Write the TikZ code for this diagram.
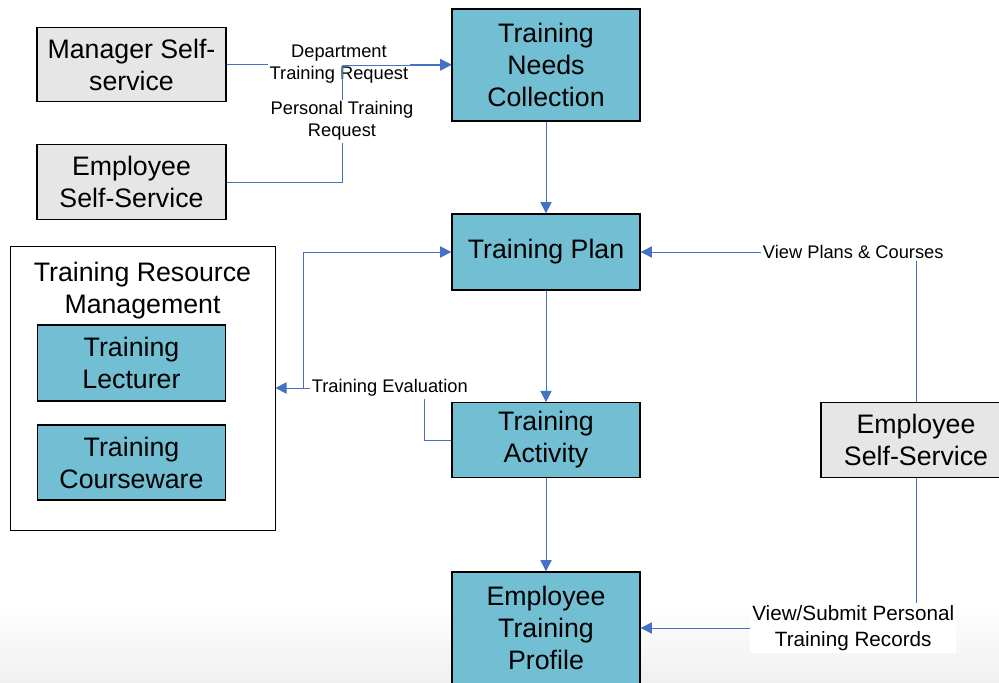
\documentclass[tikz,border=0pt]{standalone}
\usepackage{fontspec}
\setmainfont{Liberation Sans}
\usepackage{xcolor}
\usepackage{tikz}
\usetikzlibrary{
  arrows.meta,
  positioning,
  calc
}
\definecolor{procteal}{RGB}{114, 190, 210}
\definecolor{selfgray}{RGB}{230, 230, 230}
\definecolor{linkblue}{RGB}{68, 114, 196}
\tikzset{
  procbox/.style = {
    rectangle, draw=black, line width=0.9pt,
    fill=procteal, minimum width=4.7cm, minimum height=#1,
    align=center, inner sep=2pt,
    font=\fontsize{19}{22.8}\selectfont
  },
  procbox/.default = 1.88cm,
  selfbox/.style = {
    rectangle, draw=black, line width=0.9pt,
    fill=selfgray, minimum width=4.72cm, minimum height=1.86cm,
    align=center, inner sep=2pt,
    font=\fontsize{19}{22.8}\selectfont
  },
  groupbox/.style = {
    rectangle, draw=black, line width=0.6pt,
    minimum width=6.62cm, minimum height=7.1cm
  },
  grouptitle/.style = {
    align=center, font=\fontsize{19}{22.8}\selectfont
  },
  conn/.style = {-{Triangle[length=8pt, width=8pt]}, draw=linkblue,
    line width=0.7pt},
  lbl/.style = {font=\fontsize{13}{15.6}\selectfont, fill=white,
    align=center, inner sep=1.5pt},
}

\begin{document}
\begin{tikzpicture}[x=0.025cm, y=-0.025cm]

  \useasboundingbox (0,0) rectangle (999,683);
  \fill[top color=white, bottom color=black!6] (0,605) rectangle (999,683);

  %% left side
  \node[selfbox] (mss) at (131.5,64.5) {Manager Self-\\service};
  \node[selfbox] (ess1) at (131.5,182) {Employee\\Self-Service};
  \node[groupbox] (trm) at (142.5,388) {};
  \node[grouptitle] (trmtitle) at (142.5,291) {Training Resource\\Management};
  \node[procbox=1.9cm] (tlect) at (131.5,363) {Training\\Lecturer};
  \node[procbox] (tcw) at (131.5,462.5) {Training\\Courseware};

  %% main flow
  \node[procbox=2.8cm] (tnc) at (546,65) {Training\\Needs\\Collection};
  \node[procbox=1.9cm] (tplan) at (546,252) {Training Plan};
  \node[procbox=1.86cm] (tact) at (546,440) {Training\\Activity};
  \node[procbox=2.8cm] (etp) at (546,628) {Employee\\Training\\Profile};

  %% right side
  \node[selfbox, minimum width=4.75cm] (ess2) at (916,440)
    {Employee\\Self-Service};

  \coordinate (pjoin) at (342,65);
  \coordinate (evturn) at (424,388);
  \coordinate (evjoin) at (303,388);

  \draw[conn] (mss.east) -- node[lbl]{Department\\Training Request}
    (mss.east -| tnc.west);
  \draw[conn] (ess1.east) -| node[lbl, pos=0.76]{Personal Training\\Request}
    (pjoin) -- (pjoin -| tnc.west);

  \draw[conn] (tnc) -- (tplan);
  \draw[conn] (tplan) -- (tact);
  \draw[conn] (tact) -- (etp);

  \draw[conn] (tact.west) -| (evturn) -- node[lbl, pos=0.23]{Training Evaluation}
    (evturn -| trm.east);
  \draw[conn] (evjoin) |- (tplan.west);

  \draw[conn] (ess2.north) |- node[lbl, pos=0.614]{View Plans \& Courses}
    (tplan.east);
  \draw[conn] (ess2.south) |- node[lbl, pos=0.614, inner sep=1.5pt,
    font=\fontsize{14.7}{18.4}\selectfont]
    {View/Submit Personal\\Training Records} (etp.east);

\end{tikzpicture}
\end{document}
